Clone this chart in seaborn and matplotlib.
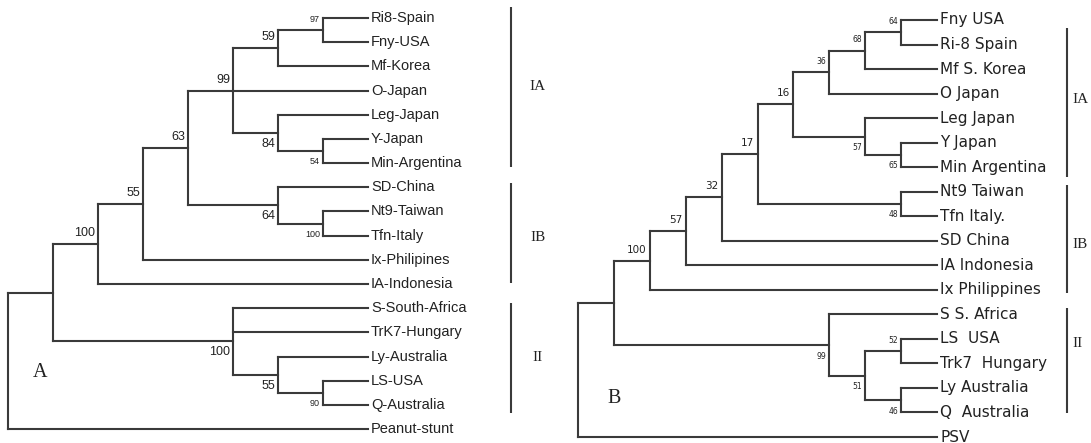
import matplotlib
matplotlib.use("Agg")
import pandas as pd
import matplotlib.pyplot as plt
import seaborn as sns

# ---- Panel A: cladogram, node level counted from the root ----
leaves_a = ["Ri8-Spain", "Fny-USA", "Mf-Korea", "O-Japan", "Leg-Japan", "Y-Japan",
            "Min-Argentina", "SD-China", "Nt9-Taiwan", "Tfn-Italy", "Ix-Philipines",
            "IA-Indonesia", "S-South-Africa", "TrK7-Hungary", "Ly-Australia",
            "LS-USA", "Q-Australia", "Peanut-stunt"]
nodes_a = ["r", "n1", "n2", "n3", "n4", "n5", "n59", "n97", "n84", "n54",
           "nIB", "nT", "nII", "n55", "n90"]
level_a = [0, 1, 2, 3, 4, 5, 6, 7, 6, 7, 6, 7, 5, 6, 7]
support_a = [None, None, 100, 55, 63, 99, 59, 97, 84, 54, 64, 100, 100, 55, 90]
children_a = [
    ["n1", "Peanut-stunt"],
    ["n2", "nII"],
    ["n3", "IA-Indonesia"],
    ["n4", "Ix-Philipines"],
    ["n5", "nIB"],
    ["n59", "O-Japan", "n84"],
    ["n97", "Mf-Korea"],
    ["Ri8-Spain", "Fny-USA"],
    ["Leg-Japan", "n54"],
    ["Y-Japan", "Min-Argentina"],
    ["SD-China", "nT"],
    ["Nt9-Taiwan", "Tfn-Italy"],
    ["S-South-Africa", "TrK7-Hungary", "n55"],
    ["Ly-Australia", "n90"],
    ["LS-USA", "Q-Australia"],
]
groups_a = ["IA", "IB", "II"]
group_a_top = [-0.45, 6.82, 11.79]
group_a_bottom = [6.16, 10.96, 16.34]
group_a_label_row = [2.85, 9.06, 14.02]

# ---- Panel B ----
leaves_b = ["Fny USA", "Ri-8 Spain", "Mf S. Korea", "O Japan", "Leg Japan", "Y Japan",
            "Min Argentina", "Nt9 Taiwan", "Tfn Italy.", "SD China", "IA Indonesia",
            "Ix Philippines", "S S. Africa", "LS  USA", "Trk7  Hungary",
            "Ly Australia", "Q  Australia", "PSV"]
nodes_b = ["r", "m1", "m100", "m57", "m32", "m17", "m16", "m36", "m68", "m64",
           "m57b", "m65", "m48", "m99", "m51", "m52", "m46"]
level_b = [0, 1, 2, 3, 4, 5, 6, 7, 8, 9, 8, 9, 9, 7, 8, 9, 9]
support_b = [None, None, 100, 57, 32, 17, 16, 36, 68, 64, 57, 65, 48, 99, 51, 52, 46]
children_b = [
    ["m1", "PSV"],
    ["m100", "m99"],
    ["m57", "Ix Philippines"],
    ["m32", "IA Indonesia"],
    ["m17", "SD China"],
    ["m16", "m48"],
    ["m36", "m57b"],
    ["m68", "O Japan"],
    ["m64", "Mf S. Korea"],
    ["Fny USA", "Ri-8 Spain"],
    ["Leg Japan", "m65"],
    ["Y Japan", "Min Argentina"],
    ["Nt9 Taiwan", "Tfn Italy."],
    ["S S. Africa", "m51"],
    ["m52", "m46"],
    ["LS  USA", "Trk7  Hungary"],
    ["Ly Australia", "Q  Australia"],
]
groups_b = ["IA", "IB", "II"]
group_b_top = [0.33, 6.73, 11.74]
group_b_bottom = [6.40, 11.13, 16.02]
group_b_label_row = [3.26, 9.17, 13.17]

W, H = 1091, 443
LINE = "#3a3a3a"


def layout(leaves, nodes, levels, children, leaf_level):
    x = {name: leaf_level for name in leaves}
    y = {name: i for i, name in enumerate(leaves)}
    x.update(zip(nodes, levels))
    kids = dict(zip(nodes, children))

    def place(n):
        if n not in y:
            ys = [place(c) for c in kids[n]]
            y[n] = (ys[0] + ys[-1]) / 2
        return y[n]

    place(nodes[0])
    rows, seg = [], 0
    for n in nodes:
        ch = kids[n]
        rows += [(seg, x[n], y[ch[0]]), (seg, x[n], y[ch[-1]])]
        seg += 1
        for c in ch:
            rows += [(seg, x[n], y[c]), (seg, x[c], y[c])]
            seg += 1
    first = {kids[n][0] for n in nodes}
    return x, y, first, pd.DataFrame(rows, columns=["seg", "x", "y"])


def draw_panel(fig, px_span, st, leaves, nodes, levels, supports, children,
               groups, g_top, g_bot, g_lab, letter):
    left, right = px_span
    ax = fig.add_axes([left / W, 0, (right - left) / W, 1])
    x, y, first, segs = layout(leaves, nodes, levels, children, st["leaf_level"])

    sns.lineplot(data=segs, x="x", y="y", units="seg", estimator=None, sort=False,
                 color=LINE, lw=1.5, solid_capstyle="projecting", ax=ax)

    for name in leaves:
        ax.annotate(name, (x[name], y[name]), xytext=(3, 0), textcoords="offset pixels",
                    ha="left", va="center", fontsize=st["leaf_size"],
                    family=st["leaf_font"], color="#222222")

    for n, lv, s in zip(nodes, levels, supports):
        if s is None:
            continue
        dy = 11 if n in first else -11
        size = st["small"] if lv >= 7 else st["big"]
        ax.annotate(str(s), (x[n], y[n]), xytext=(-3, dy), textcoords="offset pixels",
                    ha="right", va="center", fontsize=size, family=st["num_font"],
                    color="#222222")

    ax.vlines([st["bracket"]] * len(groups), g_top, g_bot, color=LINE, lw=1.5)
    for g, r in zip(groups, g_lab):
        ax.annotate(g, (st["bracket"], r), xytext=(st["glab_dx"], 0),
                    textcoords="offset pixels", ha=st["glab_ha"], va="center",
                    fontsize=11, family="Liberation Serif", color="#222222")

    ax.text(st["letter_pos"][0], st["letter_pos"][1], letter, fontsize=14.5,
            family="Liberation Serif", ha="center", va="center", color="#222222")

    ax.set_xlim((left - st["x0"]) / st["step"], (right - st["x0"]) / st["step"])
    ax.set_ylim((H - st["y0"]) / st["row"], -st["y0"] / st["row"])
    ax.axis("off")


sns.set_style("white")
plt.rcParams["font.family"] = ["Liberation Sans", "DejaVu Sans"]

style_a = dict(leaf_level=8, x0=8, step=45, y0=18, row=24.18, bracket=11.17,
               leaf_font="Liberation Sans", leaf_size=10.5, num_font="Liberation Sans",
               big=9, small=6.5, glab_dx=27, glab_ha="center", letter_pos=(0.71, 14.68))
style_b = dict(leaf_level=10, x0=578, step=35.9, y0=20, row=24.53, bracket=13.63,
               leaf_font="DejaVu Sans", leaf_size=11, num_font="DejaVu Sans",
               big=7.5, small=5.5, glab_dx=5, glab_ha="left", letter_pos=(1.0, 15.45))

fig = plt.figure(figsize=(W / 100, H / 100), dpi=100)
fig.patch.set_facecolor("white")

draw_panel(fig, (0, 545.5), style_a, leaves_a, nodes_a, level_a, support_a, children_a,
           groups_a, group_a_top, group_a_bottom, group_a_label_row, "A")
draw_panel(fig, (545.5, W), style_b, leaves_b, nodes_b, level_b, support_b, children_b,
           groups_b, group_b_top, group_b_bottom, group_b_label_row, "B")

fig.savefig("out.png", dpi=100, facecolor="white")
